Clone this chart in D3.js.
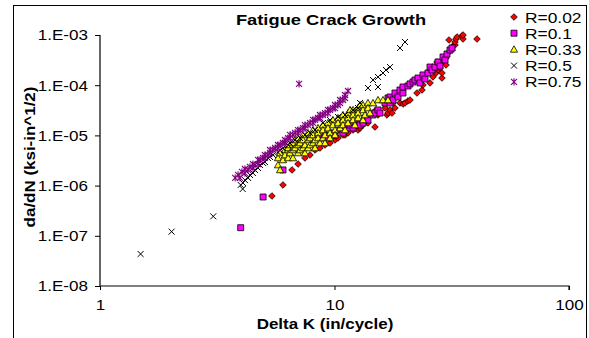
<!DOCTYPE html>
<html>
<head>
<meta charset="utf-8">
<script src="https://cdn.jsdelivr.net/npm/d3@7"></script>
<style>
  body { margin: 0; background: #fff; }
  text { font-family: Arial, "Liberation Sans", sans-serif; }
</style>
</head>
<body>
<div id="chart"></div>
<script>
// [Delta K, da/dN] pairs
var r002 = [[5.41,6.20e-7],[6.03,1.03e-6],[6.59,2.05e-6],[6.99,2.69e-6],[7.48,3.55e-6],[7.86,4.07e-6],[8.26,5.12e-6],[8.67,5.61e-6],[9.11,6.44e-6],[9.57,7.06e-6],[10.05,8.10e-6],[10.35,8.87e-6],[10.87,1.02e-5],[11.09,1.02e-5],[11.42,1.12e-5],[12.00,1.28e-5],[12.60,1.28e-5],[12.85,1.40e-5],[13.23,1.61e-5],[13.89,1.77e-5],[14.88,1.47e-5],
  [15.03,3.21e-5],[15.33,2.55e-5],[16.42,3.51e-5],[16.74,2.55e-5],[16.91,2.79e-5],[17.25,3.21e-5],[17.59,2.79e-5],[17.76,4.42e-5],[18.11,3.51e-5],[19.02,4.42e-5],[19.59,4.22e-5],[19.98,4.42e-5],[20.58,4.84e-5],[20.99,5.07e-5],[22.48,6.99e-5],[23.61,8.02e-5],[23.84,1.01e-4],[25.54,1.11e-4],[26.30,1.46e-4],[27.10,1.75e-4],[27.63,2.01e-4],[28.18,2.20e-4],[28.73,1.39e-4],[28.73,1.75e-4],[27.63,2.53e-4],[29.02,2.90e-4],[27.36,2.90e-4],[26.83,2.30e-4],[29.89,2.53e-4],[29.89,3.48e-4],[30.78,4.59e-4],[31.70,5.03e-4],[32.01,6.04e-4],[32.65,6.32e-4],[32.65,7.25e-4],[30.78,7.95e-4],[32.97,8.32e-4],[33.30,9.12e-4],[34.98,9.55e-4],[35.32,8.32e-4],[35.32,1.0e-3],[40.52,8.32e-4]];

var r01 = [[3.98,1.45e-7],[4.96,5.93e-7],[6.03,2.05e-6],
  [8.93,8.87e-6],[9.11,1.02e-5],[9.38,8.87e-6],[9.85,1.12e-5],[10.05,1.02e-5],[10.56,1.28e-5],[10.87,1.12e-5],[11.42,1.40e-5],[11.65,1.61e-5],[12.00,1.40e-5],[12.60,1.77e-5],[12.85,1.61e-5],[13.23,1.77e-5],[13.49,2.22e-5],[13.89,2.03e-5],[14.59,2.55e-5],[14.88,2.79e-5],[15.33,3.21e-5],[15.63,2.79e-5],
  [16.42,4.42e-5],[16.91,5.56e-5],[17.25,5.82e-5],[17.25,4.42e-5],[17.76,5.07e-5],[18.11,6.99e-5],[18.66,5.82e-5],[19.02,8.02e-5],[19.59,6.99e-5],[19.59,9.21e-5],[20.58,9.64e-5],[20.99,1.06e-4],[21.62,1.16e-4],[22.04,1.27e-4],[22.70,1.39e-4],[23.15,1.11e-4],[23.84,1.60e-4],[24.32,1.33e-4],[25.04,1.75e-4],[25.54,2.30e-4],[26.05,2.01e-4],[26.83,2.30e-4],[27.63,2.90e-4],[28.18,2.41e-4],[29.02,3.65e-4],[29.60,3.18e-4],[30.18,4.18e-4],[31.08,5.03e-4],[31.70,5.51e-4]];

var r033 = [[5.74,3.55e-6],[5.74,2.57e-6],[5.86,4.46e-6],[5.86,2.05e-6],[6.03,3.24e-6],[6.15,5.12e-6],[6.15,4.07e-6],[6.34,5.61e-6],[6.34,3.55e-6],[6.46,6.44e-6],[6.46,4.46e-6],
  [6.65,7.06e-6],[6.65,5.12e-6],[6.65,3.55e-6],[6.79,8.10e-6],[6.79,5.61e-6],[6.99,8.87e-6],[6.99,6.44e-6],[6.99,4.46e-6],[7.13,7.06e-6],[7.13,5.12e-6],
  [7.34,1.02e-5],[7.34,8.10e-6],[7.34,5.61e-6],[7.48,6.44e-6],[7.48,4.46e-6],[7.71,1.12e-5],[7.71,8.10e-6],[7.71,5.61e-6],[7.86,8.87e-6],[7.86,6.44e-6],
  [8.10,1.28e-5],[8.10,1.02e-5],[8.10,7.06e-6],[8.26,8.10e-6],[8.26,5.61e-6],[8.51,1.40e-5],[8.51,1.12e-5],[8.51,8.87e-6],[8.67,7.06e-6],
  [8.93,1.61e-5],[8.93,1.28e-5],[8.93,8.87e-6],[9.11,1.02e-5],[9.11,7.06e-6],[9.38,1.77e-5],[9.38,1.40e-5],[9.57,1.12e-5],[9.57,8.87e-6],
  [9.85,2.03e-5],[9.85,1.61e-5],[10.05,1.28e-5],[10.05,1.02e-5],[10.35,2.22e-5],[10.35,1.77e-5],[10.56,1.40e-5],
  [10.87,2.55e-5],[10.87,2.03e-5],[10.87,1.61e-5],[11.09,1.28e-5],[11.42,2.79e-5],[11.42,2.22e-5],[11.42,1.77e-5],[11.65,3.21e-5],
  [12.00,3.21e-5],[12.00,2.55e-5],[12.00,2.03e-5],[12.23,1.61e-5],[12.60,3.51e-5],[12.60,2.79e-5],[12.60,2.22e-5],[12.85,4.03e-5],
  [13.23,4.03e-5],[13.23,3.21e-5],[13.23,2.03e-5],[13.49,2.55e-5],[13.89,4.42e-5],[13.89,3.51e-5],[14.17,2.79e-5],[14.59,4.42e-5],
  [15.33,5.07e-5],[16.10,5.07e-5],[16.91,5.07e-5]];

var r05 = [[1.49,4.34e-8],[2.02,1.21e-7],[3.04,2.44e-7],[3.98,1.03e-6],[4.06,8.55e-7],[4.07,1.13e-6],[4.15,1.29e-6],[4.28,1.42e-6],[4.36,1.63e-6],[4.49,1.78e-6],[4.58,2.05e-6],[4.72,2.24e-6],[4.81,2.57e-6],[4.96,2.82e-6],[5.05,2.95e-6],[5.20,3.55e-6],[5.31,3.71e-6],[5.47,4.07e-6],[5.74,4.59e-6],[5.86,5.12e-6],[6.03,5.61e-6],[6.34,6.44e-6],[6.46,7.06e-6],[6.79,8.10e-6],[7.13,8.87e-6],[7.48,1.02e-5],[7.86,1.12e-5],[8.26,1.28e-5],[8.93,1.77e-5],[9.57,2.03e-5],[10.35,2.33e-5],[11.09,2.55e-5],[12.00,3.21e-5],[12.85,4.42e-5],[12.60,3.51e-5],
  [13.89,8.79e-5],[15.33,9.21e-5],[14.59,1.27e-4],[15.33,1.46e-4],[16.10,1.75e-4],[16.58,2.01e-4],[17.25,2.30e-4],[19.02,5.51e-4],[19.98,7.25e-4]];

var r075 = [[3.77,1.42e-6],[3.88,1.63e-6],[3.95,1.42e-6],[4.03,1.87e-6],[4.15,1.78e-6],[4.15,2.14e-6],[4.28,2.05e-6],[4.36,2.35e-6],[4.49,2.24e-6],[4.49,2.69e-6],[4.58,2.57e-6],[4.72,3.24e-6],[4.72,2.69e-6],[4.81,3.24e-6],[4.96,3.55e-6],[5.05,4.07e-6],[5.05,3.55e-6],[5.20,4.07e-6],[5.31,5.12e-6],[5.31,4.46e-6],[5.47,5.12e-6],[5.58,5.61e-6],[5.74,6.44e-6],[5.74,5.61e-6],[5.86,6.44e-6],
  [6.03,7.06e-6],[6.15,8.10e-6],[6.15,7.06e-6],[6.34,8.87e-6],[6.46,8.87e-6],[6.46,1.02e-5],[6.65,1.02e-5],[6.79,1.12e-5],[6.99,1.12e-5],[6.99,1.28e-5],[7.13,1.28e-5],[7.34,1.40e-5],[7.48,1.40e-5],[7.48,1.61e-5],[7.71,1.61e-5],[7.86,1.77e-5],
  [8.10,1.77e-5],[8.10,2.03e-5],[8.26,2.03e-5],[8.51,2.22e-5],[8.67,2.22e-5],[8.67,2.55e-5],[8.93,2.55e-5],[9.11,2.79e-5],[9.38,2.79e-5],[9.38,3.21e-5],[9.57,3.21e-5],[9.85,3.51e-5],[10.05,3.51e-5],[10.05,4.03e-5],[10.35,4.03e-5],[10.56,4.42e-5],[10.56,5.07e-5],[10.87,5.07e-5],[11.09,5.56e-5],[11.09,6.38e-5],[11.42,7.66e-5],[7.06,1.06e-4]];

var seriesNames = ["R=0.02", "R=0.1", "R=0.33", "R=0.5", "R=0.75"];
var xTicks = [1, 10, 100];
var xTickLabels = ["1", "10", "100"];
var yTicks = [1e-8, 1e-7, 1e-6, 1e-5, 1e-4, 1e-3];
var yTickLabels = ["1.E-08", "1.E-07", "1.E-06", "1.E-05", "1.E-04", "1.E-03"];

var width = 589, height = 338;
var svg = d3.select("#chart").append("svg")
  .attr("width", width)
  .attr("height", height);

// the original's text is drawn a bit wider than Arial, stretch it
function widen(sel, k) {
  sel.each(function () {
    var len = this.getComputedTextLength();
    d3.select(this).attr("textLength", len * k).attr("lengthAdjust", "spacingAndGlyphs");
  });
}

// chart area border (runs off the bottom like the original)
svg.append("rect")
  .attr("x", 13.5).attr("y", 5.5)
  .attr("width", 573).attr("height", 345)
  .style("fill", "none").style("stroke", "black").style("stroke-width", 1);

var x = d3.scaleLog().domain([1, 100]).range([100, 569]);
var y = d3.scaleLog().domain([1e-8, 1e-3]).range([286, 35]);

// marker shapes
var shapes = [
  { d: "M0,-3.3L3.3,0L0,3.3L-3.3,0Z", fill: "#FF0000", stroke: "black", sw: 0.8 },
  { d: "M-3,-3H3V3H-3Z", fill: "#FF00FF", stroke: "black", sw: 0.8 },
  { d: "M0,-3.6L3.6,2.8H-3.6Z", fill: "#FFFF00", stroke: "black", sw: 0.8 },
  { d: "M-3,-3L3,3M-3,3L3,-3", fill: "none", stroke: "black", sw: 1 },
  { d: "M-3,-3L3,3M-3,3L3,-3M0,-3.6V3.6", fill: "none", stroke: "#800080", sw: 1.1 }
];
var allSeries = [r002, r01, r033, r05, r075];

var plot = svg.append("g");
allSeries.forEach(function (data, i) {
  var s = shapes[i];
  plot.append("g").selectAll("path")
    .data(data)
    .enter()
    .append("path")
    .attr("d", s.d)
    .attr("transform", function (d) { return "translate(" + x(d[0]) + "," + y(d[1]) + ")"; })
    .style("fill", s.fill)
    .style("stroke", s.stroke)
    .style("stroke-width", s.sw);
});

// axes
var xAxis = svg.append("g")
  .attr("transform", "translate(0,286)")
  .call(d3.axisBottom(x).tickValues(xTicks).tickFormat(function (d, i) { return xTickLabels[i]; }).tickSize(4).tickPadding(9));
var yAxis = svg.append("g")
  .attr("transform", "translate(100,0)")
  .call(d3.axisLeft(y).tickValues(yTicks).tickFormat(function (d, i) { return yTickLabels[i]; }).tickSize(5).tickPadding(7));

[xAxis, yAxis].forEach(function (a) {
  a.select(".domain").attr("stroke", "black").attr("stroke-width", 1.2);
  a.selectAll(".tick line").attr("stroke", "black");
  a.selectAll("text").style("font-family", "Arial, 'Liberation Sans', sans-serif")
    .style("font-size", "15.5px").attr("fill", "black");
  widen(a.selectAll("text"), 1.1);
});
yAxis.select(".domain").attr("d", "M-5,35.5H0V286");
xAxis.select(".domain").attr("d", "M100,0H569V4");

// titles
var title = svg.append("text")
  .attr("x", 331).attr("y", 25)
  .attr("text-anchor", "middle")
  .style("font-weight", "bold").style("font-size", "15px")
  .text("Fatigue Crack Growth");

var xTitle = svg.append("text")
  .attr("x", 325).attr("y", 328.5)
  .attr("text-anchor", "middle")
  .style("font-weight", "bold").style("font-size", "15px")
  .text("Delta K (in/cycle)");

var yTitle = svg.append("text")
  .attr("transform", "translate(35,157) rotate(-90)")
  .attr("text-anchor", "middle")
  .style("font-weight", "bold").style("font-size", "15px")
  .text("da/dN (ksi-in^1/2)");

widen(title, 1.22);
widen(xTitle, 1.13);
widen(yTitle, 1.13);

// legend
var legend = svg.append("g");
seriesNames.forEach(function (name, i) {
  var s = shapes[i];
  var row = legend.append("g").attr("transform", "translate(514," + (17 + i * 16.2) + ")");
  row.append("path").attr("d", s.d)
    .style("fill", s.fill).style("stroke", s.stroke).style("stroke-width", s.sw);
  var t = row.append("text").attr("x", 11).attr("y", 5.5)
    .style("font-size", "15.5px")
    .text(name);
  widen(t, 1.12);
});
</script>
</body>
</html>
